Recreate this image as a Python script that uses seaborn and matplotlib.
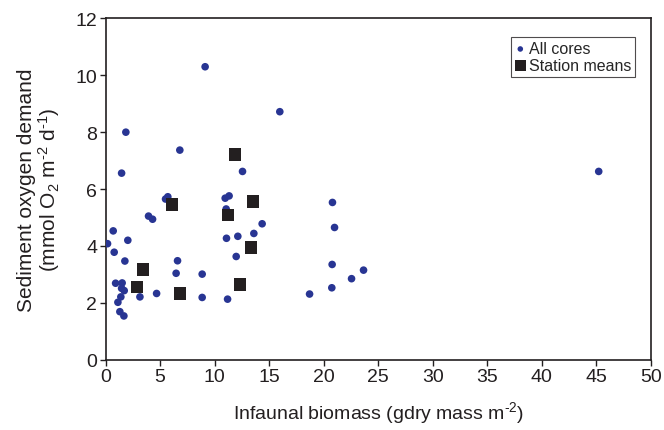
import pandas as pd
import matplotlib.pyplot as plt
import seaborn as sns

# all individual cores (infaunal biomass, sediment oxygen demand)
core_biomass = [1.86, 9.13, 6.81, 15.98, 1.47, 12.56, 5.50, 5.71, 10.97, 11.33,
                11.06, 3.94, 4.31, 14.36, 0.70, 13.60, 12.13, 11.09, 2.04, 0.18,
                0.79, 11.98, 1.77, 6.60, 6.47, 8.86, 0.92, 1.52, 1.47, 1.71,
                1.40, 1.13, 3.15, 4.68, 8.86, 11.19, 1.31, 1.68, 20.81, 21.0,
                20.78, 22.56, 20.75, 18.71, 23.66, 45.23]
core_sod = [8.00, 10.30, 7.37, 8.72, 6.56, 6.62, 5.65, 5.73, 5.68, 5.76,
            5.30, 5.05, 4.94, 4.78, 4.53, 4.44, 4.34, 4.27, 4.20, 4.08,
            3.78, 3.63, 3.47, 3.48, 3.04, 3.01, 2.69, 2.70, 2.51, 2.43,
            2.21, 2.02, 2.21, 2.33, 2.19, 2.13, 1.69, 1.54, 5.53, 4.65,
            3.35, 2.85, 2.53, 2.31, 3.15, 6.62]

# station means
station_biomass = [11.88, 6.11, 13.53, 11.24, 13.35, 3.45, 2.90, 12.34, 6.84]
station_sod = [7.22, 5.46, 5.57, 5.08, 3.95, 3.18, 2.56, 2.65, 2.33]

sns.set_theme(style='white')
plt.rcParams['font.family'] = ['Liberation Sans', 'DejaVu Sans']
plt.rcParams['mathtext.default'] = 'regular'

cores = pd.DataFrame({'biomass': core_biomass, 'sod': core_sod})
stations = pd.DataFrame({'biomass': station_biomass, 'sod': station_sod})

fig, ax = plt.subplots(figsize=(6.64, 4.31), dpi=100)
fig.subplots_adjust(left=0.159, right=0.980, top=0.955, bottom=0.163)

sns.scatterplot(data=cores, x='biomass', y='sod', ax=ax, color='#283593',
                marker='o', s=30, edgecolor='none', label='All cores', zorder=3)
sns.scatterplot(data=stations, x='biomass', y='sod', ax=ax, color='#231f20',
                marker='s', s=80, edgecolor='none', label='Station means', zorder=4)

ax.set_xlim(0, 50)
ax.set_ylim(0, 12)
ax.set_xticks(range(0, 51, 5))
ax.set_yticks(range(0, 13, 2))
ax.tick_params(axis='both', direction='out', length=4, width=1, color='#231f20',
               labelsize=14, left=True, bottom=True, pad=2, labelcolor='#231f20')
for sp in ax.spines.values():
    sp.set_color('#231f20')
    sp.set_linewidth(1.2)

hy = '\u2010'
ax.set_xlabel('Infaunal biomass (gdry mass m$^{%s2}$)' % hy, fontsize=14,
              labelpad=10, color='#231f20')
ax.set_ylabel('Sediment oxygen demand\n(mmol O$_2$ m$^{%s2}$ d$^{%s1}$)' % (hy, hy),
              fontsize=15, labelpad=10, linespacing=1.0, color='#231f20')

leg = ax.legend(loc='upper right', bbox_to_anchor=(0.972, 0.945), fontsize=11.5,
                frameon=True, fancybox=False, borderpad=0.25, handletextpad=0.2,
                handlelength=0.7, labelspacing=0.1, borderaxespad=0)
leg.get_frame().set_edgecolor('#231f20')
leg.get_frame().set_linewidth(0.8)
leg.legend_handles[0].set_sizes([16])
leg.legend_handles[1].set_sizes([60])

fig.savefig('out.png', dpi=100)
